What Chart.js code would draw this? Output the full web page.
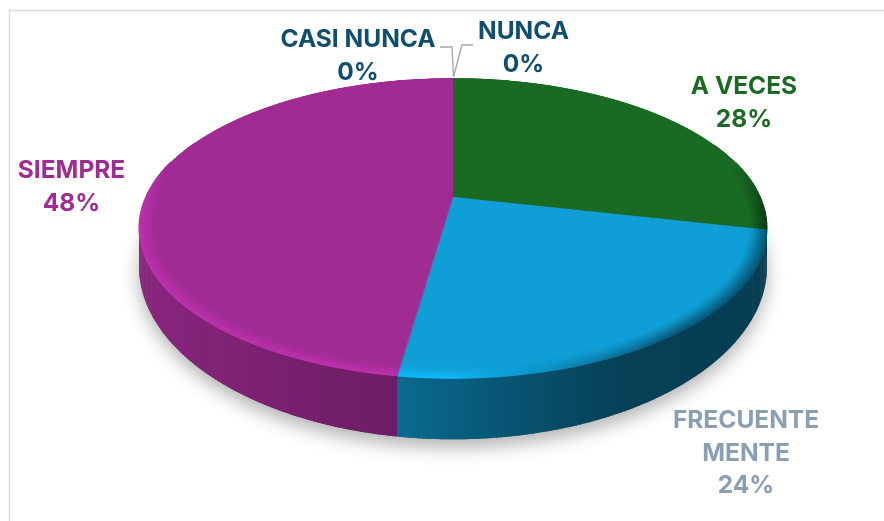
<!DOCTYPE html>
<html>
<head>
<meta charset="utf-8">
<script src="https://cdn.jsdelivr.net/npm/chart.js@4"></script>
<style>
  html,body{margin:0;padding:0;background:#fff}
  canvas{display:block}
</style>
</head>
<body>
<canvas id="pie3d" width="884" height="521"></canvas>
<script>
/* ── DATA ────────────────────────────────────────────────── */
const categories = ['NUNCA','CASI NUNCA','A VECES','FRECUENTE\nMENTE','SIEMPRE'];
const percents   = [0, 0, 28.49, 23.81, 47.7];
const sliceColors = ['#156082','#e97132','#196b24','#0f9ed5','#a02b93'];
const labelColors = ['#0f4f6d','#0f4f6d','#196b24','#8a9fb3','#a02b93'];
/* centre of the first line of each label, px */
const labelAnchors = [[523.5,32],[358,40],[744,87],[746,421],[71.5,171]];
const lineStep = 32.5;

/* ── 3D PROJECTION ───────────────────────────────────────── */
const hubX = 453, spreadX = 307.2, persp = -0.2067;
const face = { a:102.9, b:197 };   // top disc
const base = { a:118, b:230.5 };   // lower rim of the wall

function project(u, v, p){
  const f = 1 + persp*v;
  return { x: hubX + spreadX*u/f, y: (p.a*v + p.b)/f };
}
function tint(hex, f){
  const n = parseInt(hex.slice(1),16);
  const c = [n>>16&255, n>>8&255, n&255].map(k=>Math.min(255,Math.round(k*f)));
  return `rgb(${c[0]},${c[1]},${c[2]})`;
}
/* wall gets darker going left to right */
const wallStops = [[143,.86],[400,.67],[520,.52],[620,.41],[764,.39]];
function wallShade(x){
  if(x<=wallStops[0][0]) return wallStops[0][1];
  for(let i=1;i<wallStops.length;i++){
    const [x1,s1]=wallStops[i-1], [x2,s2]=wallStops[i];
    if(x<=x2) return s1+(s2-s1)*(x-x1)/(x2-x1);
  }
  return wallStops[wallStops.length-1][1];
}
function rimShade(x){
  if(x<=450) return 1.17;
  if(x>=680) return .55;
  return 1.17-(x-450)/230*.62;
}

function drawWall(ctx, arcs){
  /* soft shadow under the whole lower rim */
  ctx.save();
  ctx.shadowColor='rgba(0,0,0,.3)'; ctx.shadowBlur=18; ctx.shadowOffsetY=8;
  ctx.fillStyle='#777';
  ctx.beginPath();
  for(let t=0;t<Math.PI*2;t+=.02){
    const p=project(Math.cos(t),Math.sin(t),base);
    ctx.lineTo(p.x,p.y);
  }
  ctx.closePath(); ctx.fill();
  ctx.restore();

  arcs.forEach(arc=>{
    for(let t=arc.startAngle;t<arc.endAngle;t+=.012){
      if(Math.sin(t)<-.4) continue;
      const t2=Math.min(t+.016,arc.endAngle);
      const a=project(Math.cos(t),Math.sin(t),face), b=project(Math.cos(t2),Math.sin(t2),face);
      const c=project(Math.cos(t2),Math.sin(t2),base), d=project(Math.cos(t),Math.sin(t),base);
      ctx.fillStyle=tint(arc.options.backgroundColor, wallShade((a.x+b.x)/2));
      ctx.beginPath();
      ctx.moveTo(a.x,a.y); ctx.lineTo(b.x,b.y); ctx.lineTo(c.x,c.y); ctx.lineTo(d.x,d.y);
      ctx.closePath(); ctx.fill();
    }
  });
}

/* re-lay the flat pie the library drew onto the tilted disc, row by row */
function drawFace(ctx, src, arc){
  const R=arc.outerRadius, cx=arc.x, cy=arc.y;
  const row=y=>(y-face.b)/(face.a-persp*y);
  for(let y=76;y<382;y++){
    const v0=row(y), v1=row(y+1);
    if(v1<-1||v0>1) continue;
    const f=1+persp*(v0+v1)/2;
    ctx.drawImage(src, cx-R, cy+v0*R, 2*R, (v1-v0)*R, hubX-spreadX/f, y, 2*spreadX/f, 1);
  }
}

/* bevel along the front of the disc */
function drawBevel(ctx, arcs){
  const layers=10;
  ctx.lineCap='butt';
  arcs.forEach(arc=>{
    for(let k=0;k<layers;k++){
      const r=1-(k+.5)*.005;
      ctx.lineWidth=2.4;
      for(let t=arc.startAngle;t<arc.endAngle;t+=.012){
        const s=Math.sin(t);
        const w=Math.max(0,Math.min(1,(s+.25)/.35));
        if(w===0) continue;
        const t2=Math.min(t+.016,arc.endAngle);
        const a=project(r*Math.cos(t),r*s,face), b=project(r*Math.cos(t2),r*Math.sin(t2),face);
        const edge=rimShade(a.x);
        const fade=1-k/layers;
        ctx.strokeStyle=tint(arc.options.backgroundColor, 1+(edge-1)*w*fade);
        ctx.beginPath(); ctx.moveTo(a.x,a.y); ctx.lineTo(b.x,b.y); ctx.stroke();
      }
    }
  });
}

function drawLeaders(ctx){
  ctx.strokeStyle='#a6a6a6'; ctx.lineWidth=1.3;
  ctx.beginPath();
  ctx.moveTo(440,47); ctx.lineTo(452,47); ctx.lineTo(453.5,77);
  ctx.moveTo(473,45); ctx.lineTo(462,45); ctx.lineTo(453.5,77);
  ctx.stroke();
}

function drawLabels(ctx){
  ctx.font='700 24.5px Inter'; ctx.textAlign='center'; ctx.textBaseline='middle';
  categories.forEach((name,i)=>{
    const lines=name.split('\n').concat(Math.round(percents[i])+'%');
    ctx.fillStyle=labelColors[i];
    lines.forEach((txt,j)=>ctx.fillText(txt,labelAnchors[i][0],labelAnchors[i][1]+j*lineStep));
  });
}

function drawFrame(ctx){
  ctx.strokeStyle='#dcdcdc'; ctx.lineWidth=1.5;
  ctx.beginPath(); ctx.moveTo(9.5,521); ctx.lineTo(9.5,10.5); ctx.lineTo(884,10.5); ctx.stroke();
}

const tiltPlugin = {
  id:'tilt',
  afterDatasetsDraw(chart){
    const ctx=chart.ctx, canvas=chart.canvas;
    const arcs=chart.getDatasetMeta(0).data.filter(a=>a.endAngle-a.startAngle>0);
    const src=document.createElement('canvas');
    src.width=canvas.width; src.height=canvas.height;
    src.getContext('2d').drawImage(canvas,0,0);
    ctx.clearRect(0,0,canvas.width,canvas.height);
    drawFrame(ctx);
    drawWall(ctx,arcs);
    drawFace(ctx,src,arcs[0]);
    drawBevel(ctx,arcs);
    drawLeaders(ctx);
    drawLabels(ctx);
  }
};

new Chart(document.getElementById('pie3d'),{
  type:'pie',
  data:{
    labels:categories,
    datasets:[{ data:percents, backgroundColor:sliceColors, borderWidth:0 }]
  },
  options:{
    responsive:false, animation:false,
    layout:{padding:0},
    plugins:{legend:{display:false},tooltip:{enabled:false}}
  },
  plugins:[tiltPlugin]
});
</script>
</body>
</html>
